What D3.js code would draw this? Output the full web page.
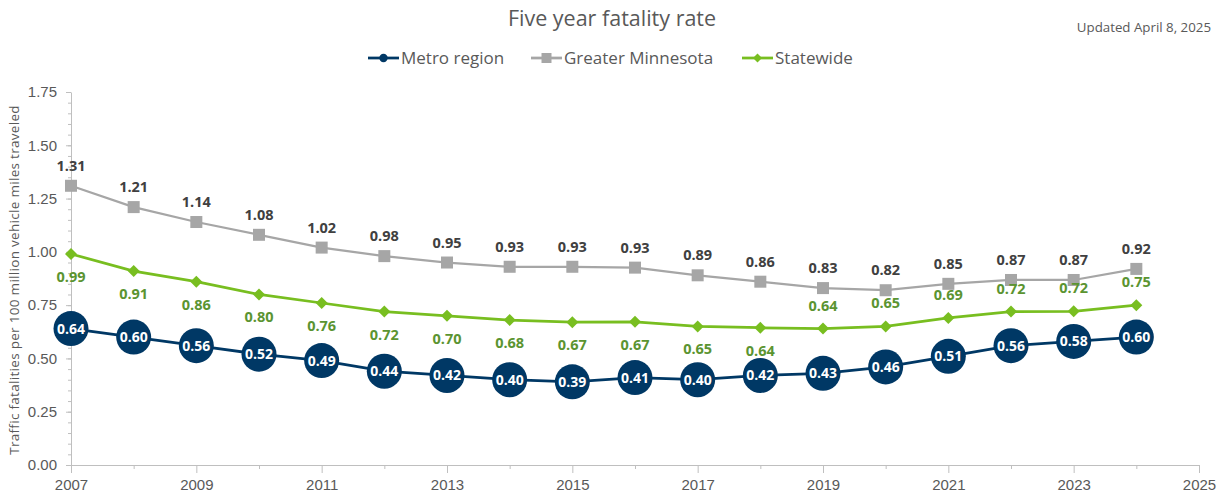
<!DOCTYPE html>
<html lang="en">
<head>
<meta charset="utf-8">
<title>Five year fatality rate</title>
<script type="text/javascript" src="https://cdnjs.cloudflare.com/ajax/libs/d3/7.8.5/d3.min.js"></script>
<style>
  body { margin: 0; background: #fff; }
  svg { font-family: "Open Sans", "Noto Sans", sans-serif; }
  .axis path, .axis line { stroke: #bfbfbf; }
  .axis text { fill: #595959; }
</style>
</head>
<body>
<script type="text/javascript">
// data
let years = [2007, 2008, 2009, 2010, 2011, 2012, 2013, 2014, 2015, 2016, 2017, 2018, 2019, 2020, 2021, 2022, 2023, 2024]
let metro = [0.64, 0.60, 0.56, 0.52, 0.49, 0.44, 0.42, 0.40, 0.39, 0.41, 0.40, 0.42, 0.43, 0.46, 0.51, 0.56, 0.58, 0.60]
let greater = [1.31, 1.21, 1.14, 1.08, 1.02, 0.98, 0.95, 0.93, 0.93, 0.926, 0.89, 0.86, 0.83, 0.82, 0.85, 0.868, 0.868, 0.92]
let statewide = [0.99, 0.91, 0.86, 0.80, 0.76, 0.72, 0.70, 0.68, 0.67, 0.672, 0.65, 0.644, 0.64, 0.65, 0.69, 0.72, 0.721, 0.75]
let yTicks = [0, 0.25, 0.5, 0.75, 1.0, 1.25, 1.5, 1.75]
let xTicks = [2007, 2009, 2011, 2013, 2015, 2017, 2019, 2021, 2023, 2025]

let w = 1225
let h = 497
let colors = { metro: "#003865", greater: "#a6a6a6", statewide: "#78be20" }

let svg = d3.select("body").append("svg")
  .attr("width", w)
  .attr("height", h)

let xScale = d3.scaleLinear().domain([2007, 2025]).range([71, 1199])
let yScale = d3.scaleLinear().domain([0, 1.75]).range([465, 92])

// minor ticks first
svg.append("g")
  .attr("class", "axis")
  .attr("transform", "translate(71,0)")
  .call(d3.axisLeft(yScale).tickValues(d3.range(0, 1.751, 0.05)).tickSize(3).tickFormat(""))
  .select(".domain").remove()

svg.append("g")
  .attr("class", "axis")
  .attr("transform", "translate(0,465)")
  .call(d3.axisBottom(xScale).tickValues(d3.range(2008, 2025, 2)).tickSize(4).tickFormat(""))
  .select(".domain").remove()

// main axes
let yAxis = svg.append("g")
  .attr("class", "axis")
  .attr("transform", "translate(71,0)")
  .call(d3.axisLeft(yScale).tickValues(yTicks).tickSize(5).tickSizeOuter(0).tickFormat(d3.format(".2f")))
yAxis.selectAll("text").attr("font-size", 15).attr("x", -14)

let xAxis = svg.append("g")
  .attr("class", "axis")
  .attr("transform", "translate(0,465)")
  .call(d3.axisBottom(xScale).tickValues(xTicks).tickSize(8).tickSizeOuter(0).tickFormat(d3.format("d")))
xAxis.selectAll("text").attr("font-size", 15).attr("y", 14)

// y axis title
svg.append("text")
  .attr("transform", "translate(19,280) rotate(-90)")
  .attr("text-anchor", "middle")
  .attr("font-size", 13.5)
  .attr("letter-spacing", 0.3)
  .attr("fill", "#595959")
  .text("Traffic fatalities per 100 million vehicle miles traveled")

// title + note
svg.append("text")
  .attr("x", 612).attr("y", 26)
  .attr("text-anchor", "middle")
  .attr("font-size", 21.5)
  .attr("fill", "#595959")
  .text("Five year fatality rate")

svg.append("text")
  .attr("x", 1211).attr("y", 32)
  .attr("text-anchor", "end")
  .attr("font-size", 13.3)
  .attr("fill", "#595959")
  .text("Updated April 8, 2025")

let line = d3.line()
  .x((d, i) => xScale(years[i]))
  .y((d) => yScale(d))

// greater minnesota
svg.append("path").datum(greater)
  .attr("d", line).attr("fill", "none")
  .attr("stroke", colors.greater).attr("stroke-width", 2.25)
svg.selectAll(".gsq").data(greater).enter().append("rect")
  .attr("x", (d, i) => xScale(years[i]) - 6)
  .attr("y", (d) => yScale(d) - 6)
  .attr("width", 12).attr("height", 12)
  .attr("fill", colors.greater)
svg.selectAll(".glab").data(greater).enter().append("text")
  .attr("x", (d, i) => xScale(years[i]))
  .attr("y", (d) => yScale(d) - 15)
  .attr("text-anchor", "middle")
  .attr("font-size", 14.5).attr("font-weight", "bold")
  .attr("fill", "#404040")
  .text((d) => d3.format(".2f")(d))

// statewide
svg.append("path").datum(statewide)
  .attr("d", line).attr("fill", "none")
  .attr("stroke", colors.statewide).attr("stroke-width", 2.75)
svg.selectAll(".sdia").data(statewide).enter().append("path")
  .attr("d", "M0,-6L6,0L0,6L-6,0Z")
  .attr("transform", (d, i) => "translate(" + xScale(years[i]) + "," + yScale(d) + ")")
  .attr("fill", colors.statewide)
// labels sit below the line until 2018, above it afterwards
svg.selectAll(".slab").data(statewide).enter().append("text")
  .attr("x", (d, i) => xScale(years[i]))
  .attr("y", (d, i) => years[i] <= 2018 ? yScale(d) + 28 : yScale(d) - 18)
  .attr("text-anchor", "middle")
  .attr("font-size", 14.5).attr("font-weight", "bold")
  .attr("fill", "#5b9431")
  .text((d) => d3.format(".2f")(d))

// metro
svg.append("path").datum(metro)
  .attr("d", line).attr("fill", "none")
  .attr("stroke", colors.metro).attr("stroke-width", 2.75)
svg.selectAll(".mdot").data(metro).enter().append("circle")
  .attr("cx", (d, i) => xScale(years[i]))
  .attr("cy", (d) => yScale(d))
  .attr("r", 17.5)
  .attr("fill", colors.metro)
svg.selectAll(".mlab").data(metro).enter().append("text")
  .attr("x", (d, i) => xScale(years[i]))
  .attr("y", (d) => yScale(d) + 5)
  .attr("text-anchor", "middle")
  .attr("font-size", 14).attr("font-weight", "bold")
  .attr("fill", "#fff")
  .text((d) => d3.format(".2f")(d))

// legend
let legend = [
  { name: "Metro region", color: colors.metro, x: 368, shape: "circle" },
  { name: "Greater Minnesota", color: colors.greater, x: 531, shape: "square" },
  { name: "Statewide", color: colors.statewide, x: 742, shape: "diamond" }
]
let lg = svg.selectAll(".leg").data(legend).enter().append("g")
  .attr("transform", (d) => "translate(" + d.x + ",58)")
lg.append("line")
  .attr("x1", 0).attr("x2", 31)
  .attr("stroke", (d) => d.color).attr("stroke-width", 2.75)
lg.append("path")
  .attr("d", (d) => d.shape == "circle" ? d3.symbol(d3.symbolCircle, 55)() :
    d.shape == "square" ? "M-5,-5H5V5H-5Z" : "M0,-4.5L4.5,0L0,4.5L-4.5,0Z")
  .attr("transform", "translate(15.5,0)")
  .attr("fill", (d) => d.color)
lg.append("text")
  .attr("x", 33).attr("y", 6)
  .attr("font-size", 17)
  .attr("fill", "#595959")
  .text((d) => d.name)
</script>
</body>
</html>
